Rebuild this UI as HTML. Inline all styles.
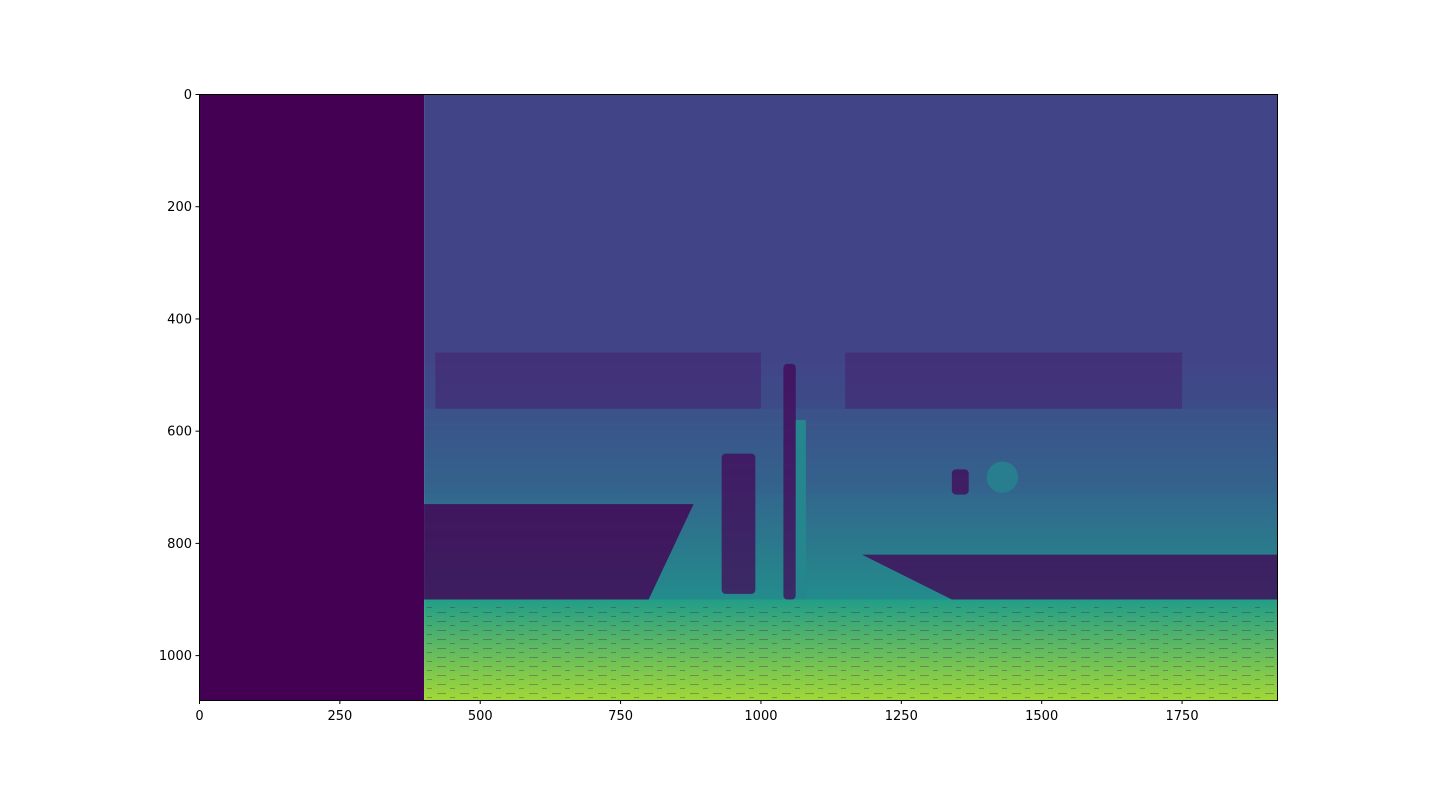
<!DOCTYPE html>
<html><head><meta charset="utf-8">
<style>
html,body{margin:0;padding:0;background:#fff;width:1440px;height:787px;overflow:hidden;font-family:"DejaVu Sans","Liberation Sans",sans-serif;}
svg text{font-family:"DejaVu Sans","Liberation Sans",sans-serif;font-size:13px;fill:#000;}
</style></head>
<body>
<svg id="chart" width="1440" height="787" xmlns="http://www.w3.org/2000/svg">
  <defs id="defs"></defs>
  <g id="img"></g>
  <rect x="199.5" y="94.5" width="1078" height="606" fill="none" stroke="#000" stroke-width="1"/>
  <g id="ticks"></g>
</svg>
<script>
// data arrays
const xTicks = [0,250,500,750,1000,1250,1500,1750];
const yTicks = [0,200,400,600,800,1000];
const bandStarts = [0,460,560,710,900];
const bandEnds   = [460,560,710,900,1080];
const bandTop    = [0.2,0.2,0.25,0.33,0.55];
const bandBottom = [0.2,0.23,0.32,0.48,0.86];
const shelves = [[420,460,580,100],[1150,460,600,100]];
const darkBlobs = [ // [x,y,w,h] regions of zero depth
  [930,640,60,250],[1040,480,22,420],[1340,668,30,45]
];
const tealBlob = [1430,682,28,0.42];
const pillar = [1062,580,18,320,0.46];

const NS="http://www.w3.org/2000/svg";
const AX={x0:199.5,y0:94.5,w:1078,h:606,xmax:1920,ymax:1080};
const sx=v=>AX.x0+v/AX.xmax*AX.w, sy=v=>AX.y0+v/AX.ymax*AX.h;
const vir=[[0,[68,1,84]],[0.1,[72,36,117]],[0.2,[65,68,135]],[0.3,[53,95,141]],[0.4,[42,120,142]],[0.5,[33,145,140]],[0.6,[34,168,132]],[0.7,[68,191,112]],[0.8,[122,209,81]],[0.9,[189,223,38]],[1,[253,231,37]]];
function cmap(t){for(let i=0;i<vir.length-1;i++){const [a,ca]=vir[i],[b,cb]=vir[i+1];if(t<=b){const f=(t-a)/(b-a);return `rgb(${ca.map((c,k)=>Math.round(c+(cb[k]-c)*f)).join(',')})`;}}return 'rgb(253,231,37)';}
function el(tag,attrs,parent){const e=document.createElementNS(NS,tag);for(const k in attrs)e.setAttribute(k,attrs[k]);parent.appendChild(e);return e;}
const g=document.getElementById('img'),defs=document.getElementById('defs'),tg=document.getElementById('ticks');
const bg=el('rect',{x:sx(0),y:sy(0),width:sx(400)-sx(0),height:AX.h,fill:cmap(0)},g);


bandStarts.forEach((s,i)=>{
  const id='gr'+i;
  const lg=el('linearGradient',{id:id,x1:0,y1:0,x2:0,y2:1},defs);
  el('stop',{offset:0,'stop-color':cmap(bandTop[i])},lg);
  el('stop',{offset:1,'stop-color':cmap(bandBottom[i])},lg);
  const r=el('rect',{x:sx(400),y:sy(s),width:sx(1920)-sx(400),height:sy(bandEnds[i])-sy(s)+0.5,fill:`url(#${id})`},g);
  
  
});
shelves.forEach(b=>{
  const pb=el('rect',{x:sx(b[0]),y:sy(b[1]),width:sx(b[0]+b[2])-sx(b[0]),height:sy(b[1]+b[3])-sy(b[1]),fill:cmap(0.05),opacity:0.4},g);
  
  
});
const dp=el('polygon',{points:[[400,730],[880,730],[800,900],[400,900]].map(p=>sx(p[0])+','+sy(p[1])).join(' '),fill:cmap(0),opacity:0.8},g);


const dr=el('polygon',{points:[[1180,820],[1920,820],[1920,900],[1340,900]].map(p=>sx(p[0])+','+sy(p[1])).join(' '),fill:cmap(0),opacity:0.75},g);


darkBlobs.forEach(b=>{
  const r=el('rect',{x:sx(b[0]),y:sy(b[1]),width:sx(b[0]+b[2])-sx(b[0]),height:sy(b[1]+b[3])-sy(b[1]),fill:cmap(0),opacity:0.7,rx:4},g);
  
  
});
const pl=el('rect',{x:sx(pillar[0]),y:sy(pillar[1]),width:sx(pillar[0]+pillar[2])-sx(pillar[0]),height:sy(pillar[1]+pillar[3])-sy(pillar[1]),fill:cmap(pillar[4])},g);


const tb=el('ellipse',{cx:sx(tealBlob[0]),cy:sy(tealBlob[1]),rx:sx(tealBlob[2])-sx(0),ry:sy(tealBlob[2])-sy(0),fill:cmap(tealBlob[3])},g);


const pat=el('pattern',{id:'stripes',width:23,height:9,patternUnits:'userSpaceOnUse'},defs);
el('rect',{x:0,y:0,width:9,height:1,fill:cmap(0)},pat);
el('rect',{x:13,y:4,width:5,height:1,fill:cmap(0)},pat);
const fs=el('rect',{x:sx(400),y:sy(910),width:sx(1920)-sx(400),height:sy(1080)-sy(910),fill:'url(#stripes)',opacity:0.3},g);


xTicks.forEach(v=>{
  const x=sx(v);
  const l=el('line',{x1:x,y1:700.5,x2:x,y2:704,stroke:'#000'},tg);
  
  
  const t=el('text',{x:x,y:720,'text-anchor':'middle'},tg);t.textContent=v;
  
  
});
yTicks.forEach(v=>{
  const y=sy(v);
  const l=el('line',{x1:195.5,y1:y,x2:199.5,y2:y,stroke:'#000'},tg);
  
  
  const t=el('text',{x:192,y:y+4.5,'text-anchor':'end'},tg);t.textContent=v;
  
  
});
</script>
</body></html>
